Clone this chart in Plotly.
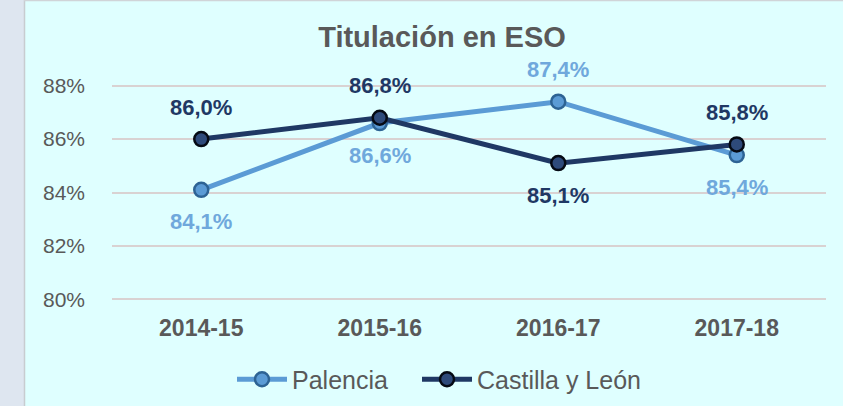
import plotly.graph_objects as go

categories = ["2014-15", "2015-16", "2016-17", "2017-18"]
palencia = [84.1, 86.6, 87.4, 85.4]
castilla_leon = [86.0, 86.8, 85.1, 85.8]
palencia_label_side = ["below", "below", "above", "below"]
cyl_label_side = ["above", "above", "below", "above"]
y_ticks = [80, 82, 84, 86, 88]

BG = "#DFFFFF"
GRAY = "#595959"
LIGHT = "#5B9BD5"
DARK = "#1F3864"
FONT = "Liberation Sans, Arial, sans-serif"

fig = go.Figure()
fig.add_trace(go.Scatter(
    x=categories, y=palencia, name="Palencia", mode="lines+markers",
    line=dict(color=LIGHT, width=5), legend="legend",
    marker=dict(size=14, color=LIGHT, line=dict(color="#2D6394", width=2.5)),
))
fig.add_trace(go.Scatter(
    x=categories, y=castilla_leon, name="Castilla y León", mode="lines+markers",
    line=dict(color=DARK, width=5), legend="legend2",
    marker=dict(size=14, color="#2E4A7A", line=dict(color="#050A14", width=2.5)),
))

for vals, sides, col in [(palencia, palencia_label_side, "#6FA8DC"),
                         (castilla_leon, cyl_label_side, DARK)]:
    for cat, v, side in zip(categories, vals, sides):
        fig.add_annotation(
            x=cat, y=v, text=f"{v:.1f}%".replace(".", ","), showarrow=False,
            yshift=32 if side == "above" else -32,
            font=dict(family=FONT, size=22, color=col, weight="bold"),
        )

# plot area: x 112..826, grid 88% at y=86, 80% at y=299 (range padded by 0.1)
W, H = 843, 406
L, R = 112, 17
T, B = 83.3, 104.3
pw = W - L - R
ph = H - T - B

# left strip outside the chart frame
fig.add_shape(type="rect", xref="paper", yref="paper",
              x0=-L / pw, x1=(24 - L) / pw, y0=-B / ph, y1=1 + T / ph,
              fillcolor="#DEE6F0", line=dict(width=0), layer="below")
fig.add_shape(type="line", xref="paper", yref="paper",
              x0=(24.5 - L) / pw, x1=(24.5 - L) / pw, y0=-B / ph, y1=1 + T / ph,
              line=dict(color="#C8CCD0", width=1.5))
fig.add_shape(type="line", xref="paper", yref="paper",
              x0=(24 - L) / pw, x1=1 + R / pw, y0=1 + (T - 1) / ph, y1=1 + (T - 1) / ph,
              line=dict(color="#D0D4D8", width=1.5))

legend_style = dict(orientation="h", xanchor="left", y=-(379 - (H - B)) / ph,
                    yanchor="middle", font=dict(family=FONT, size=25, color=GRAY),
                    itemwidth=50, bgcolor="rgba(0,0,0,0)")

fig.update_layout(
    width=W, height=H,
    margin=dict(l=L, r=R, t=T, b=B, autoexpand=False),
    paper_bgcolor=BG, plot_bgcolor=BG,
    title=dict(text="<b>Titulación en ESO</b>", x=(442 - L) / pw, xref="paper",
               xanchor="center", y=1 - 37 / H, yanchor="middle",
               font=dict(family=FONT, size=29, color=GRAY)),
    legend=dict(x=(232 - L) / pw, **legend_style),
    legend2=dict(x=(417 - L) / pw, **legend_style),
    showlegend=True,
)
fig.update_xaxes(range=[-0.5, 3.5], showgrid=False, showline=False, ticks="",
                 automargin=False, ticklabelstandoff=10,
                 tickfont=dict(family=FONT, size=23, color=GRAY, weight="bold"))
fig.update_yaxes(range=[79.9, 88.1], tickvals=y_ticks,
                 ticktext=[f"{t}%" for t in y_ticks], automargin=False,
                 showgrid=True, gridcolor="#D9D2D2", gridwidth=1.5,
                 zeroline=False, showline=False, ticklabelstandoff=26,
                 tickfont=dict(family=FONT, size=21, color=GRAY))

fig.write_html("out.html", config={"displayModeBar": False},
               post_script="document.body.style.margin='0';")
